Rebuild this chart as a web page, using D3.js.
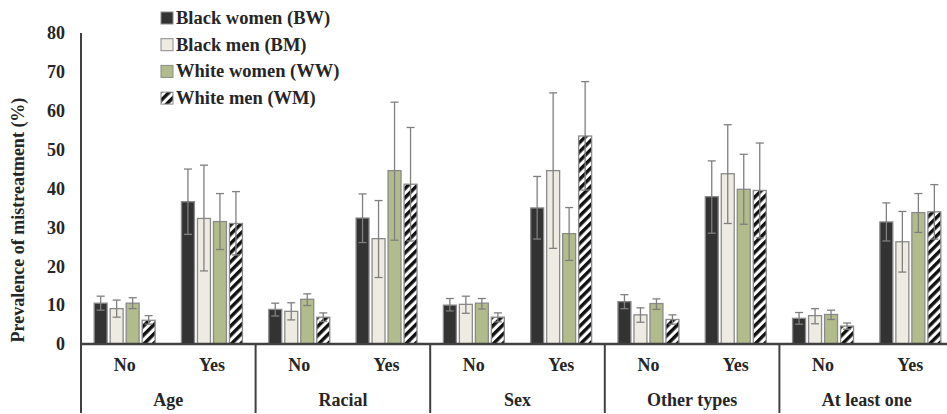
<!DOCTYPE html>
<html>
<head>
<meta charset="utf-8">
<script src="https://cdn.jsdelivr.net/npm/d3@7"></script>
<style>
  body { margin: 0; background: #fff; }
  svg text { font-family: "Liberation Serif", "Times New Roman", Times, Tinos, "DejaVu Serif", serif !important; font-weight: bold; fill: #262626; }
</style>
</head>
<body>
<div id="wrapper"></div>
<script>
// data
const categories = ["Age", "Racial", "Sex", "Other types", "At least one"]
const answers = ["No", "Yes"]
const series = ["Black women (BW)", "Black men (BM)", "White women (WW)", "White men (WM)"]
const yTicks = [0, 10, 20, 30, 40, 50, 60, 70, 80]

// values per series: [cat][No, Yes]
const bw = [[10.5, 36.6], [8.9, 32.4], [10.0, 35.0], [10.9, 37.9], [6.6, 31.4]]
const bm = [[9.1, 32.3], [8.4, 27.1], [10.2, 44.6], [7.5, 43.8], [7.3, 26.3]]
const ww = [[10.5, 31.5], [11.5, 44.6], [10.5, 28.4], [10.4, 39.8], [7.6, 33.8]]
const wm = [[6.1, 31.0], [6.9, 41.1], [6.9, 53.5], [6.3, 39.5], [4.6, 34.0]]

// error bar lower / upper bounds
const bwLo = [[8.7, 28.2], [7.2, 26.1], [8.5, 27.0], [9.1, 28.5], [5.1, 26.5]]
const bwHi = [[12.3, 45.0], [10.5, 38.6], [11.7, 43.1], [12.7, 47.1], [8.1, 36.3]]
const bmLo = [[6.9, 18.8], [6.2, 17.1], [7.9, 24.6], [5.6, 31.0], [5.2, 18.5]]
const bmHi = [[11.3, 46.0], [10.6, 36.9], [12.3, 64.6], [9.3, 56.4], [9.1, 34.1]]
const wwLo = [[9.1, 24.3], [9.9, 26.7], [9.0, 21.5], [8.9, 30.8], [6.3, 28.7]]
const wwHi = [[11.9, 38.7], [12.9, 62.2], [11.7, 35.1], [11.6, 48.8], [8.7, 38.7]]
const wmLo = [[5.1, 22.9], [5.8, 26.5], [5.7, 39.6], [5.1, 27.3], [3.8, 27.0]]
const wmHi = [[7.3, 39.2], [8.0, 55.7], [8.0, 67.5], [7.5, 51.7], [5.4, 41.0]]

const vals = [bw, bm, ww, wm]
const los = [bwLo, bmLo, wwLo, wmLo]
const his = [bwHi, bmHi, wwHi, wmHi]

const fills = ["#333333", "#eeece2", "#b2bb8b", "url(#stripes)"]

const dim = {
  width: 947,
  height: 414,
  left: 81,
  top: 33,
  base: 344,
  right: 954,
  bottom: 413,
}

const svg = d3.select("#wrapper")
  .append("svg")
  .attr("width", dim.width)
  .attr("height", dim.height)

// stripe pattern for white men
const pat = svg.append("defs").append("pattern")
  .attr("id", "stripes")
  .attr("patternUnits", "userSpaceOnUse")
  .attr("width", 6.5)
  .attr("height", 6.5)
  .attr("patternTransform", "rotate(45)")
pat.append("rect").attr("width", 6.5).attr("height", 6.5).attr("fill", "#fff")
pat.append("rect").attr("width", 3.4).attr("height", 6.5).attr("fill", "#111")

// scales
const y = d3.scaleLinear()
  .domain([0, 80])
  .range([dim.base, dim.top])

const xCat = d3.scaleBand()
  .domain(categories)
  .range([dim.left, dim.right])

const xAns = d3.scaleBand()
  .domain(answers)
  .range([0, xCat.bandwidth()])

const xSer = d3.scaleBand()
  .domain(series)
  .range([xAns.bandwidth() / 2 - 32, xAns.bandwidth() / 2 + 32])
  .paddingInner(0.19)
  .paddingOuter(0.095)

// y axis labels
const yAxis = svg.append("g")
  .attr("transform", `translate(${dim.left},0)`)
  .call(d3.axisLeft(y).tickValues(yTicks).tickSize(0).tickPadding(16))
yAxis.attr("font-family", null).attr("font-size", null)
yAxis.select(".domain").remove()
yAxis.selectAll("text")
  .style("font-size", "18px")
  .attr("fill", "#262626")

svg.append("text")
  .attr("transform", `translate(24,220) rotate(-90)`)
  .attr("text-anchor", "middle")
  .style("font-size", "18px")
  .text("Prevalence of mistreatment (%)")

// bars
categories.forEach((cat, ci) => {
  answers.forEach((ans, ai) => {
    const g = svg.append("g")
      .attr("transform", `translate(${xCat(cat) + xAns(ans)},0)`)
    series.forEach((s, si) => {
      const v = vals[si][ci][ai]
      const x0 = xSer(s)
      g.append("rect")
        .attr("x", x0)
        .attr("y", y(v))
        .attr("width", xSer.bandwidth())
        .attr("height", y(0) - y(v))
        .attr("fill", fills[si])
        .attr("stroke", "#8a8a8a")
        .attr("stroke-width", 1.3)
    })
    // error bars drawn on top
    series.forEach((s, si) => {
      const cx = xSer(s) + xSer.bandwidth() / 2
      const lo = los[si][ci][ai]
      const hi = his[si][ci][ai]
      const eb = g.append("g")
        .attr("stroke", "#7f7f7f")
        .attr("stroke-width", 1.3)
      eb.append("line").attr("x1", cx).attr("x2", cx).attr("y1", y(lo)).attr("y2", y(hi))
      eb.append("line").attr("x1", cx - 4).attr("x2", cx + 4).attr("y1", y(lo)).attr("y2", y(lo))
      eb.append("line").attr("x1", cx - 4).attr("x2", cx + 4).attr("y1", y(hi)).attr("y2", y(hi))
    })
    g.append("text")
      .attr("x", xAns.bandwidth() / 2)
      .attr("y", 371)
      .attr("text-anchor", "middle")
      .style("font-size", "18px")
      .text(ans)
  })
  svg.append("text")
    .attr("x", xCat(cat) + xCat.bandwidth() / 2)
    .attr("y", 406)
    .attr("text-anchor", "middle")
    .style("font-size", "18px")
    .text(cat)
})

// axis lines and category dividers
const lineCol = "#404040"
svg.append("line")
  .attr("x1", dim.left).attr("x2", dim.left)
  .attr("y1", dim.top).attr("y2", dim.bottom)
  .attr("stroke", lineCol).attr("stroke-width", 2)
svg.append("line")
  .attr("x1", dim.left).attr("x2", dim.width)
  .attr("y1", y(0)).attr("y2", y(0))
  .attr("stroke", lineCol).attr("stroke-width", 2.5)
categories.slice(1).forEach(cat => {
  svg.append("line")
    .attr("x1", xCat(cat)).attr("x2", xCat(cat))
    .attr("y1", y(0)).attr("y2", dim.bottom)
    .attr("stroke", lineCol).attr("stroke-width", 2)
})

// legend
const legend = svg.append("g").attr("transform", "translate(161,18)")
series.forEach((s, si) => {
  const row = legend.append("g").attr("transform", `translate(0,${si * 26.7})`)
  row.append("rect")
    .attr("x", 0).attr("y", -6)
    .attr("width", 12).attr("height", 12)
    .attr("fill", fills[si])
    .attr("stroke", "#8a8a8a")
    .attr("stroke-width", 1)
  row.append("text")
    .attr("x", 15)
    .attr("y", 6)
    .style("font-size", "18.5px")
    .text(s)
})
</script>
</body>
</html>
